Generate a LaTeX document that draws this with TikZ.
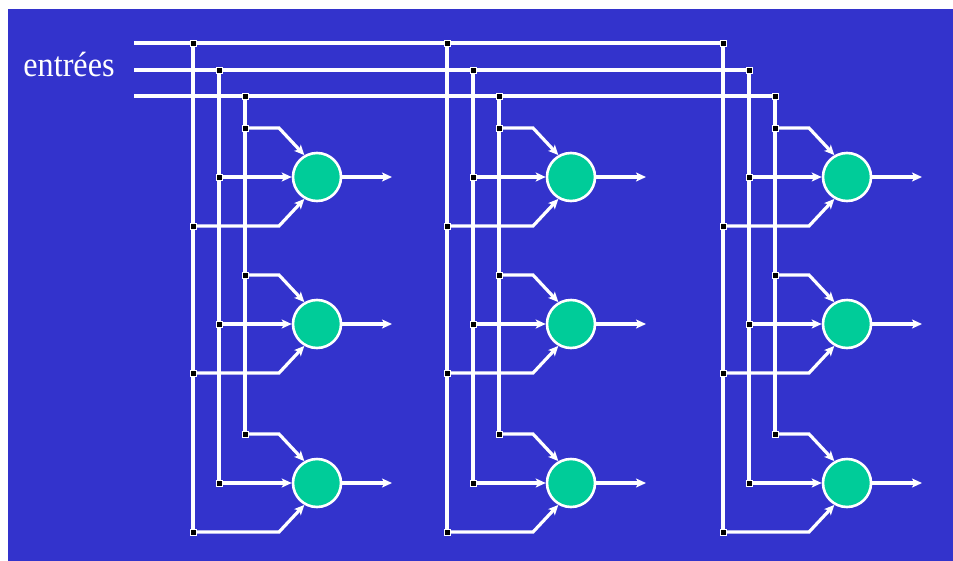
\documentclass[tikz,border=0pt]{standalone}
\usepackage{fontspec}
\setmainfont{Liberation Serif}
\usetikzlibrary{arrows.meta}
\definecolor{bg}{RGB}{51,51,204}
\definecolor{neur}{RGB}{0,204,153}
\begin{document}
\begin{tikzpicture}[x=1pt,y=-1pt,
  wire/.style={draw=white,line width=3.2pt},
  arr/.style={wire,-{Stealth[length=10pt,width=9pt,inset=2.5pt]}},
  neuron/.style={circle,fill=neur,draw=white,line width=2.6pt,minimum size=48pt,inner sep=0pt},
  jdot/.style={rectangle,fill=black,draw=white,line width=1pt,minimum size=6pt,inner sep=0pt},
  lbl/.style={text=white,font=\fontsize{35}{35}\selectfont,inner sep=0pt,xscale=0.92}]
\useasboundingbox (0,0) rectangle (953,560);
\fill[white] (0,0) rectangle (953,560);
\fill[bg] (8,9) rectangle (965,575);

\node[lbl,anchor=base] (entrees) at (69,76) {entrées};

\coordinate (in1) at (134,43);
\coordinate (in2) at (134,70);
\coordinate (in3) at (134,96);

\foreach \c/\dx in {1/0,2/254,3/530}{
  \coordinate (t\c1) at (193+\dx,43);
  \coordinate (t\c2) at (219+\dx,70);
  \coordinate (t\c3) at (245+\dx,96);
  \foreach \r/\cy in {1/177,2/324,3/483}{
    \node[neuron] (n\c\r) at (317+\dx,\cy) {};
    \coordinate (a\c\r) at (245+\dx,\cy-49);
    \coordinate (b\c\r) at (219+\dx,\cy);
    \coordinate (d\c\r) at (193+\dx,\cy+49);
    \coordinate (ka\c\r) at (279+\dx,\cy-49);
    \coordinate (kd\c\r) at (279+\dx,\cy+49);
    \coordinate (o\c\r) at (392+\dx,\cy);
  }
}

% input lines
\draw[wire] (in1) -- (t31);
\draw[wire] (in2) -- (t32);
\draw[wire] (in3) -- (t33);

\foreach \c in {1,2,3}{
  \draw[wire] (t\c1) -- (d\c3);
  \draw[wire] (t\c2) -- (b\c3);
  \draw[wire] (t\c3) -- (a\c3);
  \foreach \r in {1,2,3}{
    \draw[arr] (a\c\r) -- (ka\c\r) -- (n\c\r.120);
    \draw[arr] (b\c\r) -- (n\c\r);
    \draw[arr] (d\c\r) -- (kd\c\r) -- (n\c\r.240);
    \draw[arr] (n\c\r) -- (o\c\r);
  }
}

% junction dots
\foreach \c in {1,2,3}{
  \node[jdot] at (t\c1) {};
  \node[jdot] at (t\c2) {};
  \node[jdot] at (t\c3) {};
  \foreach \r in {1,2,3}{
    \node[jdot] at (a\c\r) {};
    \node[jdot] at (b\c\r) {};
    \node[jdot] at (d\c\r) {};
  }
}
\end{tikzpicture}
\end{document}
